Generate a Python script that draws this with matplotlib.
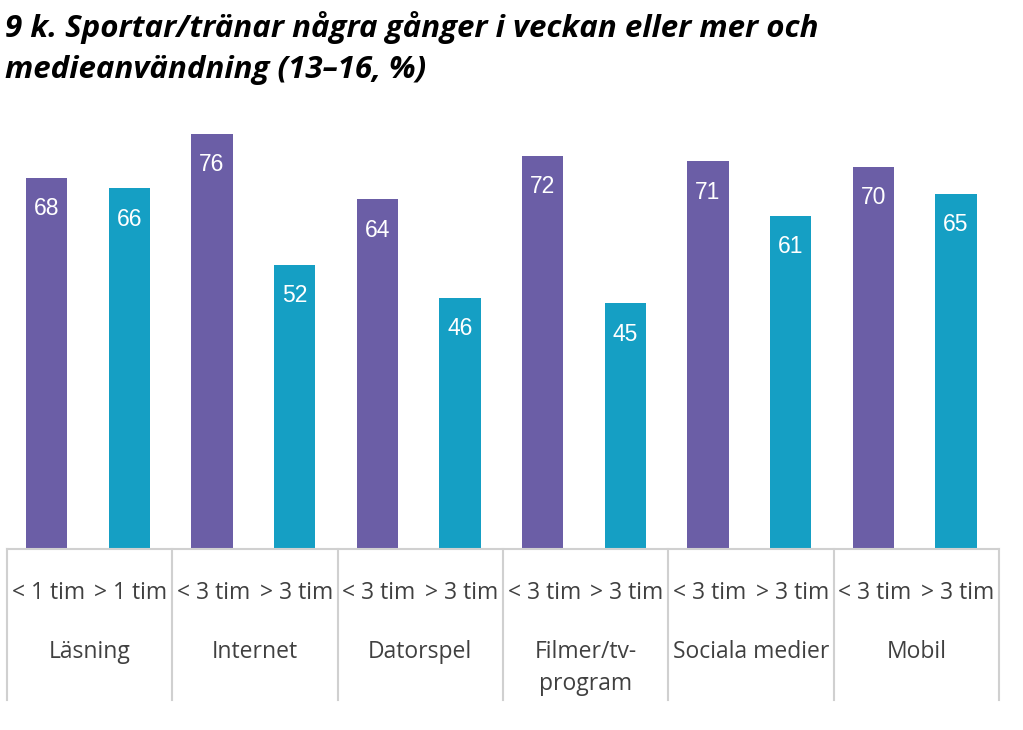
import matplotlib.pyplot as plt
import numpy as np

categories = ["Läsning", "Internet", "Datorspel", "Filmer/tv-\nprogram", "Sociala medier", "Mobil"]
low_labels = ["< 1 tim", "< 3 tim", "< 3 tim", "< 3 tim", "< 3 tim", "< 3 tim"]
high_labels = ["> 1 tim", "> 3 tim", "> 3 tim", "> 3 tim", "> 3 tim", "> 3 tim"]
low_values = [68, 76, 64, 72, 71, 70]
high_values = [66, 52, 46, 45, 61, 65]

purple = "#6B5EA6"
teal = "#159FC4"
grid = "#D0D0D0"
txt = "#404040"

W, H = 1023, 730
fig = plt.figure(figsize=(W / 100, H / 100), dpi=100)
# axes box in pixels: x 7..999, y 112..549
ax = fig.add_axes([7 / W, (H - 549) / H, (999 - 7) / W, (549 - 112) / H])
ax.set_xlim(-0.5, 11.5)
ax.set_ylim(0, 80)
ax.axis("off")

n = len(categories)
x_low = np.arange(n) * 2
x_high = x_low + 1
ax.bar(x_low - 0.02, low_values, width=0.5, color=purple)
ax.bar(x_high - 0.02, high_values, width=0.5, color=teal)

for xs, vals in [(x_low, low_values), (x_high, high_values)]:
    for xi, v in zip(xs, vals):
        ax.annotate(str(v), (xi - 0.02, v), xytext=(0, -31 * 0.72), textcoords="offset points",
                    ha="center", va="center", color="white", fontsize=16.5,
                    family="Liberation Sans")

# two-level category axis drawn as a table
trans = ax.get_xaxis_transform()
ah = 549 - 112
ax.plot([-0.5, 11.5], [0, 0], color=grid, lw=1.5, transform=trans, clip_on=False)
for b in np.arange(n + 1) * 2 - 0.5:
    ax.plot([b, b], [0, -(700 - 549) / ah], color=grid, lw=1.5, transform=trans, clip_on=False)

for i in range(n):
    ax.text(x_low[i], -(593 - 549) / ah, low_labels[i], transform=trans, ha="center", va="center",
            fontsize=16.5, color=txt, family="Open Sans")
    ax.text(x_high[i], -(593 - 549) / ah, high_labels[i], transform=trans, ha="center", va="center",
            fontsize=16.5, color=txt, family="Open Sans")
    ax.text(x_low[i] + 0.5, -(640 - 549) / ah, categories[i], transform=trans, ha="center", va="top",
            fontsize=16.5, color=txt, family="Open Sans", linespacing=1.45)

fig.text(5 / W, 1 - 28 / H, "9 k. Sportar/tränar några gånger i veckan eller mer och",
         fontsize=22.5, fontweight="bold", fontstyle="italic", family="Open Sans", va="center")
fig.text(5 / W, 1 - 70 / H, "medieanvändning (13–16, %)",
         fontsize=22.5, fontweight="bold", fontstyle="italic", family="Open Sans", va="center")

fig.savefig("out.png", dpi=100)
